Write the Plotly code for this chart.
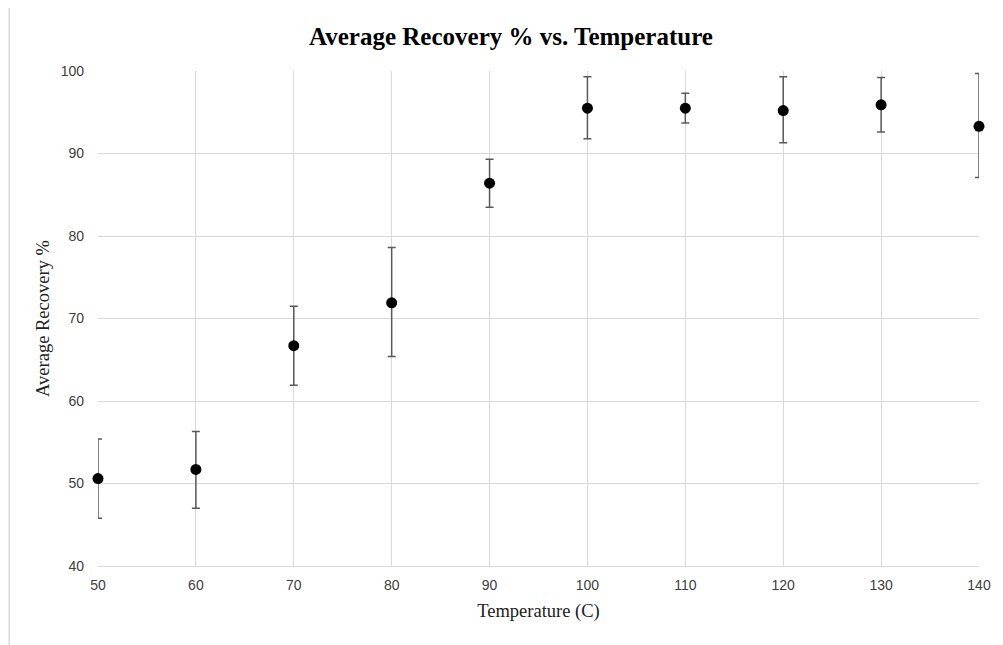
import plotly.graph_objects as go

temperature = [50, 60, 70, 80, 90, 100, 110, 120, 130, 140]
recovery = [50.6, 51.7, 66.7, 71.9, 86.4, 95.5, 95.5, 95.2, 95.9, 93.3]
err_plus = [4.8, 4.6, 4.8, 6.7, 2.9, 3.8, 1.8, 4.1, 3.3, 6.4]
err_minus = [4.8, 4.7, 4.8, 6.5, 2.9, 3.7, 1.8, 3.9, 3.3, 6.2]

# page body has an 8px margin; figure sized so the plot area lands at x 98-981, y 71-566
W, H = 995, 637
L, R, T, B = 90, 22, 63, 79
PW, PH = W - L - R, H - T - B

fig = go.Figure()
fig.add_trace(go.Scatter(
    x=temperature, y=recovery, mode="markers",
    marker=dict(color="black", size=11),
    error_y=dict(type="data", symmetric=False, array=err_plus, arrayminus=err_minus,
                 color="#595959", thickness=1.5, width=4),
    cliponaxis=False,
    showlegend=False,
))

fx = (1 - L) / PW          # figure left edge in paper coords
fy = (H - T - 1) / PH      # figure top edge in paper coords

fig.update_layout(
    width=W, height=H,
    margin=dict(l=L, r=R, t=T, b=B),
    paper_bgcolor="white", plot_bgcolor="white",
    title=dict(text="<b>Average Recovery % vs. Temperature</b>",
               font=dict(family="Liberation Serif", size=25, color="black"),
               x=(511 - 8) / W, xref="container", xanchor="center",
               y=1 - (36 - 8) / H, yref="container", yanchor="middle"),
    xaxis=dict(range=[50, 140], tickvals=temperature, showgrid=True, gridcolor="#d9d9d9",
               gridwidth=1.3, zeroline=False, showline=True, linecolor="#d9d9d9", linewidth=1.3,
               ticks="", ticklabelstandoff=6,
               tickfont=dict(family="Liberation Sans", size=14, color="#404040"),
               title=dict(text="Temperature (C)", font=dict(family="Liberation Serif", size=18.5, color="#222"),
                          standoff=12)),
    yaxis=dict(range=[40, 100], dtick=10, showgrid=True, gridcolor="#d9d9d9", gridwidth=1.3,
               zeroline=False, showline=False, ticks="", ticklabelstandoff=13,
               tickfont=dict(family="Liberation Sans", size=14, color="#404040"),
               title=dict(text="Average Recovery %", font=dict(family="Liberation Serif", size=18.5, color="#222"),
                          standoff=6)),
    shapes=[
        dict(type="line", xref="paper", yref="paper",
             x0=fx, x1=fx, y0=-B / PH, y1=fy,
             line=dict(color="#d9d9d9", width=1.5)),
        dict(type="line", xref="paper", yref="paper",
             x0=fx, x1=(W - L) / PW, y0=fy, y1=fy,
             line=dict(color="#d9d9d9", width=1.5)),
    ],
)

fig.write_html("out.html")
